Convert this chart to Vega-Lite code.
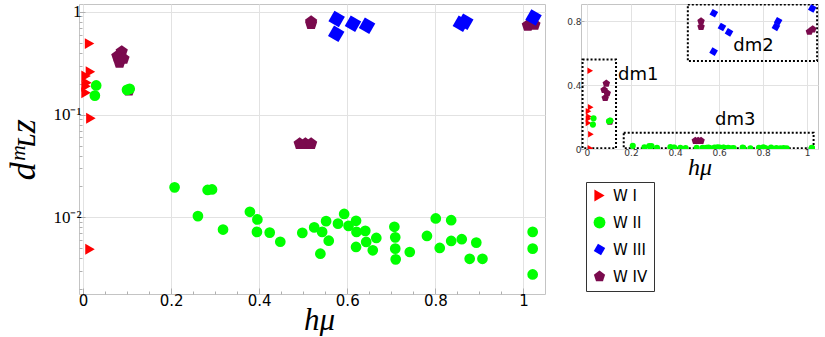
{
  "$schema": "https://vega.github.io/schema/vega-lite/v6.json",
  "padding": {"left": 5, "top": 2, "right": 0, "bottom": 0},
  "background": "white",
  "bounds": "flush",
  "spacing": 36,
  "datasets": {
    "pts": [
      {"type": "W I", "h": 0.015, "d": 0.49},
      {"type": "W I", "h": 0.017, "d": 0.261},
      {"type": "W I", "h": 0.007, "d": 0.237},
      {"type": "W I", "h": 0.009, "d": 0.204},
      {"type": "W I", "h": 0.007, "d": 0.189},
      {"type": "W I", "h": 0.007, "d": 0.163},
      {"type": "W I", "h": 0.018, "d": 0.092},
      {"type": "W I", "h": 0.016, "d": 0.0049},
      {"type": "W IV", "h": 0.088, "d": 0.41},
      {"type": "W IV", "h": 0.078, "d": 0.37},
      {"type": "W IV", "h": 0.083, "d": 0.32},
      {"type": "W IV", "h": 0.092, "d": 0.35},
      {"type": "W IV", "h": 0.104, "d": 0.172},
      {"type": "W IV", "h": 0.492, "d": 0.052},
      {"type": "W IV", "h": 0.505, "d": 0.052},
      {"type": "W IV", "h": 0.518, "d": 0.052},
      {"type": "W IV", "h": 0.518, "d": 0.8},
      {"type": "W IV", "h": 0.518, "d": 0.765},
      {"type": "W IV", "h": 1.01, "d": 0.735},
      {"type": "W IV", "h": 1.025, "d": 0.75},
      {"type": "W III", "h": 0.576, "d": 0.85},
      {"type": "W III", "h": 0.575, "d": 0.61},
      {"type": "W III", "h": 0.613, "d": 0.764},
      {"type": "W III", "h": 0.645, "d": 0.73},
      {"type": "W III", "h": 0.868, "d": 0.8},
      {"type": "W III", "h": 0.858, "d": 0.765},
      {"type": "W III", "h": 1.023, "d": 0.88},
      {"type": "W II", "h": 0.03, "d": 0.192},
      {"type": "W II", "h": 0.027, "d": 0.153},
      {"type": "W II", "h": 0.106, "d": 0.178},
      {"type": "W II", "h": 0.1, "d": 0.174},
      {"type": "W II", "h": 0.208, "d": 0.0196},
      {"type": "W II", "h": 0.261, "d": 0.0103},
      {"type": "W II", "h": 0.283, "d": 0.0185},
      {"type": "W II", "h": 0.293, "d": 0.0187},
      {"type": "W II", "h": 0.318, "d": 0.00762},
      {"type": "W II", "h": 0.379, "d": 0.01135},
      {"type": "W II", "h": 0.396, "d": 0.00955},
      {"type": "W II", "h": 0.395, "d": 0.00723},
      {"type": "W II", "h": 0.424, "d": 0.00712},
      {"type": "W II", "h": 0.448, "d": 0.0058},
      {"type": "W II", "h": 0.498, "d": 0.00707},
      {"type": "W II", "h": 0.525, "d": 0.008},
      {"type": "W II", "h": 0.539, "d": 0.00444},
      {"type": "W II", "h": 0.543, "d": 0.00723},
      {"type": "W II", "h": 0.552, "d": 0.0092},
      {"type": "W II", "h": 0.558, "d": 0.00594},
      {"type": "W II", "h": 0.579, "d": 0.0087},
      {"type": "W II", "h": 0.593, "d": 0.0108},
      {"type": "W II", "h": 0.603, "d": 0.00828},
      {"type": "W II", "h": 0.62, "d": 0.00927},
      {"type": "W II", "h": 0.621, "d": 0.00723},
      {"type": "W II", "h": 0.62, "d": 0.00516},
      {"type": "W II", "h": 0.641, "d": 0.0074},
      {"type": "W II", "h": 0.643, "d": 0.00577},
      {"type": "W II", "h": 0.658, "d": 0.00479},
      {"type": "W II", "h": 0.666, "d": 0.00631},
      {"type": "W II", "h": 0.707, "d": 0.0081},
      {"type": "W II", "h": 0.709, "d": 0.0064},
      {"type": "W II", "h": 0.709, "d": 0.00497},
      {"type": "W II", "h": 0.71, "d": 0.00391},
      {"type": "W II", "h": 0.742, "d": 0.00461},
      {"type": "W II", "h": 0.781, "d": 0.0066},
      {"type": "W II", "h": 0.801, "d": 0.00977},
      {"type": "W II", "h": 0.81, "d": 0.00505},
      {"type": "W II", "h": 0.836, "d": 0.0094},
      {"type": "W II", "h": 0.836, "d": 0.0059},
      {"type": "W II", "h": 0.86, "d": 0.00614},
      {"type": "W II", "h": 0.878, "d": 0.00396},
      {"type": "W II", "h": 0.893, "d": 0.00569},
      {"type": "W II", "h": 0.907, "d": 0.00396},
      {"type": "W II", "h": 1.021, "d": 0.00723},
      {"type": "W II", "h": 1.021, "d": 0.00497},
      {"type": "W II", "h": 1.021, "d": 0.00279}
    ],
    "boxes": [
      {"label": "dm1", "x1": -0.02, "x2": 0.132, "y1": 0.005, "y2": 0.561, "lx": 0.233, "ly": 0.461},
      {"label": "dm2", "x1": 0.458, "x2": 1.045, "y1": 0.551, "y2": 0.905, "lx": 0.756, "ly": 0.643},
      {"label": "dm3", "x1": 0.167, "x2": 1.029, "y1": 0.005, "y2": 0.101, "lx": 0.673, "ly": 0.179}
    ]
  },
  "config": {
    "view": {"stroke": "#c4c4c4", "strokeWidth": 1},
    "axis": {"domain": false, "tickColor": "#b0b0b0", "gridColor": "#e2e2e2", "labelColor": "black", "titleColor": "black", "titleFontWeight": "normal"},
    "legend": {
      "orient": "none", "legendX": 507, "legendY": 178,
      "strokeColor": "#333333", "fillColor": "white", "padding": 6,
      "rowPadding": 11, "symbolSize": 140, "labelFont": "DejaVu Sans",
      "labelFontSize": 15, "labelOffset": 6, "labelColor": "black", "symbolStrokeWidth": 0
    }
  },
  "resolve": {"scale": {"size": "independent"}},
  "hconcat": [
    {
      "width": 466,
      "height": 290,
      "data": {"name": "pts"},
      "mark": {"type": "point", "filled": true, "opacity": 1, "clip": true},
      "encoding": {
        "x": {
          "field": "h", "type": "quantitative",
          "scale": {"domain": [-0.009, 1.049], "nice": false, "zero": false},
          "axis": {
            "values": [0, 0.05, 0.1, 0.15, 0.2, 0.25, 0.3, 0.35, 0.4, 0.45, 0.5, 0.55, 0.6, 0.65, 0.7, 0.75, 0.8, 0.85, 0.9, 0.95, 1],
            "labelExpr": "datum.value == 0 ? '0' : datum.value == 1 ? '1' : (abs(datum.value*5 - round(datum.value*5)) < 0.001 ? format(datum.value, '.1f') : '')",
            "labelFont": "DejaVu Sans", "labelFontSize": 15, "labelPadding": 5,
            "tickSize": {"condition": {"test": "abs(datum.value*5 - round(datum.value*5)) < 0.001", "value": -6}, "value": -3},
            "gridOpacity": {"condition": {"test": "abs(datum.value*5 - round(datum.value*5)) < 0.001", "value": 1}, "value": 0},
            "title": "hμ", "titleFont": "Liberation Serif", "titleFontStyle": "italic", "titleFontSize": 31,
            "titleX": 240, "titlePadding": -3
          }
        },
        "y": {
          "field": "d", "type": "quantitative",
          "scale": {"type": "log", "domain": [0.0018, 1.19], "nice": false},
          "axis": {
            "values": [0.002, 0.003, 0.004, 0.005, 0.006, 0.007, 0.008, 0.009, 0.01, 0.02, 0.03, 0.04, 0.05, 0.06, 0.07, 0.08, 0.09, 0.1, 0.2, 0.3, 0.4, 0.5, 0.6, 0.7, 0.8, 0.9, 1],
            "labelExpr": "datum.value == 1 ? '1' : abs(datum.value - 0.1) < 1e-9 ? '10⁻¹' : abs(datum.value - 0.01) < 1e-9 ? '10⁻²' : ''",
            "labelFont": "Liberation Serif", "labelFontSize": 17, "labelPadding": 4,
            "tickSize": {"condition": {"test": "abs(log(datum.value)/log(10) - round(log(datum.value)/log(10))) < 0.001", "value": -6}, "value": -3},
            "gridOpacity": {"condition": {"test": "abs(log(datum.value)/log(10) - round(log(datum.value)/log(10))) < 0.001", "value": 1}, "value": 0},
            "title": "dᵐʟᴢ", "titleFont": "Liberation Serif", "titleFontStyle": "italic", "titleFontSize": 36,
            "titlePadding": 10
          }
        },
        "color": {
          "field": "type", "type": "nominal", "title": null,
          "scale": {"domain": ["W I", "W II", "W III", "W IV"], "range": ["#ff0000", "#00ff00", "#0000ff", "#7a0a4d"]}
        },
        "shape": {
          "field": "type", "type": "nominal", "title": null,
          "scale": {"domain": ["W I", "W II", "W III", "W IV"], "range": ["triangle-right", "circle", "M0.966,-0.259L0.259,0.966L-0.966,0.259L-0.259,-0.966Z", "M0,-1L0.951,-0.309L0.588,0.809L-0.588,0.809L-0.951,-0.309Z"]}
        },
        "size": {
          "field": "type", "type": "nominal", "legend": null,
          "scale": {"type": "ordinal", "domain": ["W I", "W II", "W III", "W IV"], "range": [120, 115, 290, 165]}
        }
      }
    },
    {
      "width": 237,
      "height": 145,
      "layer": [
        {
          "data": {"name": "boxes"},
          "mark": {"type": "rect", "fillOpacity": 0, "stroke": "black", "strokeWidth": 2, "strokeDash": [2, 2], "clip": true},
          "encoding": {
            "x": {"field": "x1", "type": "quantitative", "scale": {"domain": [-0.027, 1.049], "nice": false, "zero": false}},
            "x2": {"field": "x2"},
            "y": {"field": "y1", "type": "quantitative", "scale": {"domain": [0, 0.908], "nice": false}},
            "y2": {"field": "y2"}
          }
        },
        {
          "data": {"name": "boxes"},
          "mark": {"type": "text", "font": "DejaVu Sans", "fontSize": 18, "color": "black", "align": "center", "baseline": "middle"},
          "encoding": {
            "x": {"field": "lx", "type": "quantitative", "scale": {"domain": [-0.027, 1.049], "nice": false, "zero": false}},
            "y": {"field": "ly", "type": "quantitative", "scale": {"domain": [0, 0.908], "nice": false}},
            "text": {"field": "label"}
          }
        },
        {
          "data": {"name": "pts"},
          "mark": {"type": "point", "filled": true, "opacity": 1, "clip": true},
          "encoding": {
            "x": {
              "field": "h", "type": "quantitative",
              "scale": {"domain": [-0.027, 1.049], "nice": false, "zero": false},
              "axis": {
                "values": [0, 0.2, 0.4, 0.6, 0.8, 1],
                "labelExpr": "datum.value == 0 ? '0' : datum.value == 1 ? '1' : format(datum.value, '.1f')",
                "labelFont": "DejaVu Sans", "labelFontSize": 9, "labelColor": "#333333", "labelPadding": 2,
                "tickSize": -3,
                "title": "hμ", "titleFont": "Liberation Serif", "titleFontStyle": "italic", "titleFontSize": 24, "titlePadding": -2
              }
            },
            "y": {
              "field": "d", "type": "quantitative",
              "scale": {"domain": [0, 0.908], "nice": false},
              "axis": {
                "values": [0, 0.2, 0.4, 0.6, 0.8],
                "labelExpr": "datum.value == 0 ? '0' : (datum.value == 0.4 || datum.value == 0.8) ? format(datum.value, '.1f') : ''",
                "labelFont": "DejaVu Sans", "labelFontSize": 9, "labelColor": "#333333", "labelPadding": 3,
                "tickSize": -3, "title": null
              }
            },
            "color": {"field": "type", "type": "nominal", "title": null, "scale": {"domain": ["W I", "W II", "W III", "W IV"], "range": ["#ff0000", "#00ff00", "#0000ff", "#7a0a4d"]}},
            "shape": {"field": "type", "type": "nominal", "title": null, "scale": {"domain": ["W I", "W II", "W III", "W IV"], "range": ["triangle-right", "circle", "M0.966,-0.259L0.259,0.966L-0.966,0.259L-0.259,-0.966Z", "M0,-1L0.951,-0.309L0.588,0.809L-0.588,0.809L-0.951,-0.309Z"]}},
            "size": {"field": "type", "type": "nominal", "legend": null, "scale": {"type": "ordinal", "domain": ["W I", "W II", "W III", "W IV"], "range": [42, 38, 80, 62]}}
          }
        }
      ]
    }
  ]
}
